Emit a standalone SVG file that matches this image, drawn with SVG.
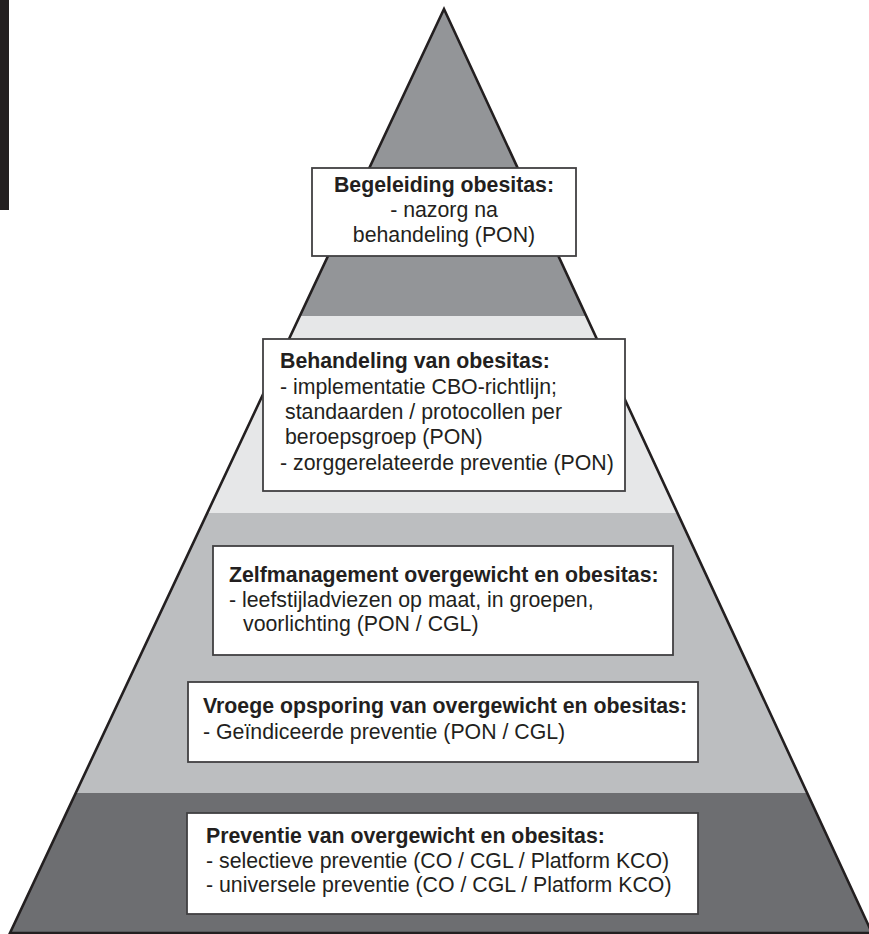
<svg xmlns="http://www.w3.org/2000/svg" width="869" height="934" viewBox="0 0 869 934">
  <style>
    .box { fill: #ffffff; stroke: #414042; stroke-width: 1.8; }
    .t { font-family: "Liberation Sans", Arial, Helvetica, sans-serif; font-size: 21.3px; fill: #231f20; }
    .b { font-weight: bold; }
  </style>
  <defs>
    <clipPath id="pyr">
      <path d="M444,9 L10,933 L872,933 Z"/>
    </clipPath>
  </defs>
  <rect width="869" height="934" fill="#ffffff"/>
  <rect id="sidebar" x="0" y="0" width="9" height="210" fill="#231f20"/>
  <g id="pyramid">
    <g clip-path="url(#pyr)">
      <rect x="0" y="0" width="869" height="316" fill="#939598"/>
      <rect x="0" y="316" width="869" height="197" fill="#e6e7e8"/>
      <rect x="0" y="513" width="869" height="280" fill="#bcbec0"/>
      <rect x="0" y="793" width="869" height="141" fill="#6d6e71"/>
    </g>
    <path d="M444,9 L10,933 L872,933 Z" fill="none" stroke="#231f20" stroke-width="2.6" stroke-linejoin="miter"/>
  </g>
  <g id="begeleiding">
    <rect class="box" x="312" y="168" width="264" height="88"/>
    <text class="t b" x="444" y="192" text-anchor="middle">Begeleiding obesitas:</text>
    <text class="t" x="444" y="217" text-anchor="middle">- nazorg na</text>
    <text class="t" x="444" y="242" text-anchor="middle">behandeling (PON)</text>
  </g>
  <g id="behandeling">
    <rect class="box" x="263" y="339" width="362" height="152"/>
    <text class="t b" x="280" y="368">Behandeling van obesitas:</text>
    <text class="t" x="280" y="394">- implementatie CBO-richtlijn;</text>
    <text class="t" x="285" y="419">standaarden / protocollen per</text>
    <text class="t" x="285" y="444">beroepsgroep (PON)</text>
    <text class="t" x="280" y="470">- zorggerelateerde preventie (PON)</text>
  </g>
  <g id="zelfmanagement">
    <rect class="box" x="213" y="546" width="460" height="109"/>
    <text class="t b" x="229" y="582">Zelfmanagement overgewicht en obesitas:</text>
    <text class="t" x="229" y="607">- leefstijladviezen op maat, in groepen,</text>
    <text class="t" x="243" y="631">voorlichting (PON / CGL)</text>
  </g>
  <g id="vroege-opsporing">
    <rect class="box" x="188" y="682" width="510" height="80"/>
    <text class="t b" x="203" y="713">Vroege opsporing van overgewicht en obesitas:</text>
    <text class="t" x="203" y="739">- Geïndiceerde preventie (PON / CGL)</text>
  </g>
  <g id="preventie">
    <rect class="box" x="187" y="813" width="511" height="101"/>
    <text class="t b" x="206" y="843">Preventie van overgewicht en obesitas:</text>
    <text class="t" x="206" y="868">- selectieve preventie (CO / CGL / Platform KCO)</text>
    <text class="t" x="206" y="892">- universele preventie (CO / CGL / Platform KCO)</text>
  </g>
</svg>
